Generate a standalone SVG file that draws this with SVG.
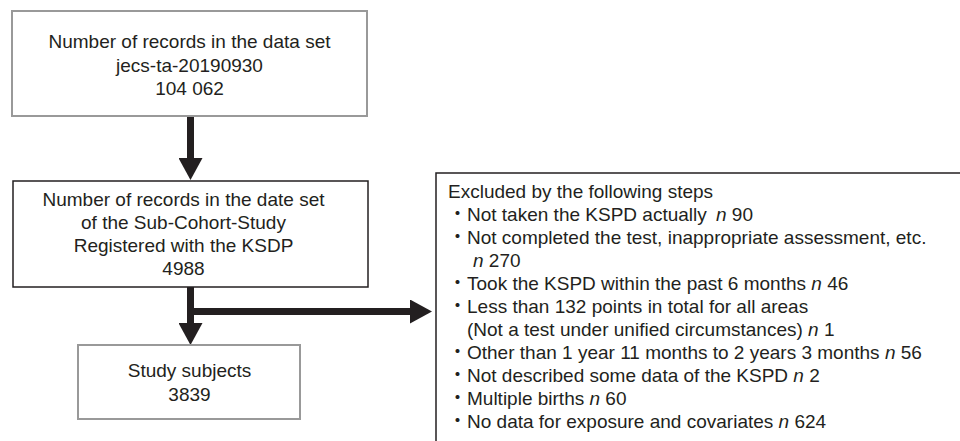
<svg xmlns="http://www.w3.org/2000/svg" width="960" height="441" viewBox="0 0 960 441">
<style>
text{font-family:"Liberation Sans","Noto Sans CJK JP",Arial,sans-serif;font-size:19px;fill:#231f20}
.c{text-anchor:middle}
.grey{fill:#fff;stroke:#999;stroke-width:2}
.dark{fill:#fff;stroke:#231f20;stroke-width:1.5}
.conn{stroke:#231f20;stroke-width:7;fill:none;marker-end:url(#ah)}
.i{font-style:italic}
</style>
<defs>
<marker id="ah" markerUnits="userSpaceOnUse" markerWidth="22" markerHeight="24" refX="4" refY="12" orient="auto">
<path d="M0,0 L22,12 L0,24 z" fill="#231f20"/>
</marker>
</defs>
<rect width="960" height="441" fill="#fff"/>
<g id="connectors">
<line class="conn" x1="190.5" y1="116" x2="190.5" y2="162"/>
<line class="conn" x1="190.5" y1="287" x2="190.5" y2="327"/>
<line class="conn" x1="187" y1="311.5" x2="414" y2="311.5"/>
</g>
<g id="n-dataset">
<rect class="grey" x="12" y="11" width="355" height="105"/>
<text class="c" x="189.5" y="48">Number of records in the data set</text>
<text class="c" x="189.5" y="72">jecs-ta-20190930</text>
<text class="c" x="189.5" y="95">104 062</text>
</g>
<g id="n-subcohort">
<rect class="dark" x="13" y="181" width="355" height="106"/>
<text class="c" x="183.5" y="206">Number of records in the date set</text>
<text class="c" x="183.5" y="229">of the Sub-Cohort-Study</text>
<text class="c" x="183.5" y="252">Registered with the KSDP</text>
<text class="c" x="183.5" y="275">4988</text>
</g>
<g id="n-subjects">
<rect class="grey" x="78" y="345" width="222" height="74"/>
<text class="c" x="189.5" y="377">Study subjects</text>
<text class="c" x="189.5" y="401">3839</text>
</g>
<g id="n-excluded">
<rect class="dark" x="436" y="173" width="540" height="290"/>
<text x="448" y="198">Excluded by the following steps</text>
<text x="448" y="221">・Not taken the KSPD actually  <tspan class="i" dx="4">n</tspan> 90</text>
<text x="448" y="244">・Not completed the test, inappropriate assessment, etc.</text>
<text x="473" y="267"><tspan class="i">n</tspan> 270</text>
<text x="448" y="290">・Took the KSPD within the past 6 months <tspan class="i">n</tspan> 46</text>
<text x="448" y="313">・Less than 132 points in total for all areas</text>
<text x="467" y="336">(Not a test under unified circumstances) <tspan class="i">n</tspan> 1</text>
<text x="448" y="359">・Other than 1 year 11 months to 2 years 3 months <tspan class="i">n</tspan> 56</text>
<text x="448" y="382">・Not described some data of the KSPD <tspan class="i">n</tspan> 2</text>
<text x="448" y="405">・Multiple births <tspan class="i">n</tspan> 60</text>
<text x="448" y="428">・No data for exposure and covariates <tspan class="i">n</tspan> 624</text>
</g>
</svg>
